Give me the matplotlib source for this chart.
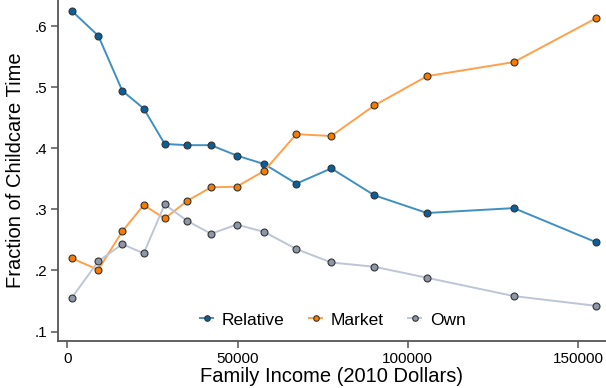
import matplotlib
matplotlib.use("Agg")
from matplotlib import pyplot as plt
from matplotlib.ticker import FuncFormatter

plt.rcParams["font.family"] = ["Liberation Sans", "DejaVu Sans"]

income = [1290, 9107, 16157, 22444, 28613, 35253, 42215, 49765,
          57873, 67274, 77556, 90188, 105670, 131187, 155405]
relative = [0.625, 0.584, 0.494, 0.465, 0.407, 0.405, 0.405, 0.388,
            0.374, 0.342, 0.367, 0.323, 0.294, 0.302, 0.246]
market = [0.220, 0.201, 0.264, 0.307, 0.285, 0.314, 0.336, 0.337,
          0.363, 0.423, 0.420, 0.470, 0.518, 0.541, 0.613]
own = [0.155, 0.215, 0.243, 0.228, 0.308, 0.281, 0.260, 0.275,
       0.263, 0.235, 0.213, 0.206, 0.188, 0.158, 0.142]

x_ticks = [0, 50000, 100000, 150000]
y_ticks = [0.1, 0.2, 0.3, 0.4, 0.5, 0.6]

series = [
    ("Relative", relative, "#3f8fc5", "#0b5f99"),
    ("Market", market, "#ffa04a", "#f57c00"),
    ("Own", own, "#bcc6d6", "#8d97a8"),
]

fig = plt.figure(figsize=(6.06, 3.88), dpi=100)
ax = fig.add_axes([58 / 606, 47 / 388, 548 / 606, 341 / 388])

for name, vals, lc, mc in series:
    ax.plot(income, vals, "-o", color=lc, lw=1.4, ms=5,
            markerfacecolor=mc, markeredgecolor="#333333", markeredgewidth=0.8,
            label=name)

ax.set_xlim(-2730, 158250)
ax.set_ylim(0.0845, 0.6426)
ax.set_xticks(x_ticks)
ax.set_yticks(y_ticks)
ax.yaxis.set_major_formatter(FuncFormatter(lambda v, p: f"{v:.1f}".lstrip("0")))

for side in ("top", "right"):
    ax.spines[side].set_visible(False)
for side in ("left", "bottom"):
    ax.spines[side].set_color("#555555")
    ax.spines[side].set_linewidth(1.3)
ax.tick_params(direction="out", length=5, width=1.1, color="#555555",
               labelsize=11, pad=3)

ax.set_xlabel("Family Income (2010 Dollars)", fontsize=14.5, labelpad=1)
ax.set_ylabel("Fraction of Childcare Time", fontsize=14.5, labelpad=7)

fig.legend(loc="center", bbox_to_anchor=(333 / 606, 1 - 320 / 388), ncol=3,
           frameon=False, fontsize=12.5, handlelength=0.75, handletextpad=0.5,
           columnspacing=1.4, markerscale=0.8)

fig.savefig("out.png", dpi=100)
